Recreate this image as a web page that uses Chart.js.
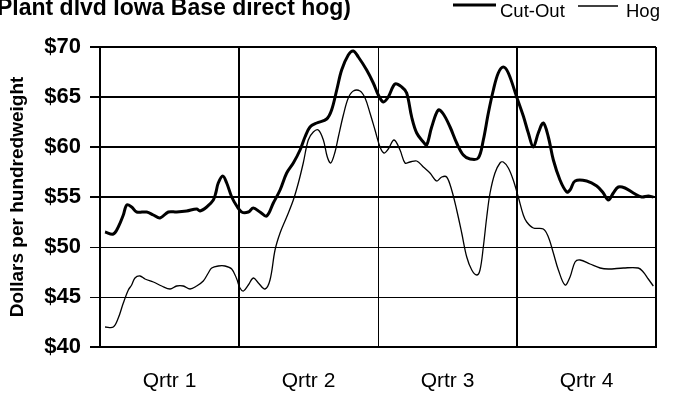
<!DOCTYPE html>
<html>
<head>
<meta charset="utf-8">
<script src="https://cdn.jsdelivr.net/npm/chart.js@4/dist/chart.umd.min.js"></script>
<style>
  html, body { margin: 0; padding: 0; background: #fff; }
  #wrap { width: 676px; height: 393px; position: relative; }
</style>
</head>
<body>
<div id="wrap"><canvas id="c"></canvas></div>
<script>
// Weekly position within the year (0-52) and price in $/cwt
const quarterLabels = ['Qrtr 1', 'Qrtr 2', 'Qrtr 3', 'Qrtr 4'];
const yTicks = [40, 45, 50, 55, 60, 65, 70];

const cutOutWeeks = [0.47, 1.24, 1.71, 2.18, 2.50, 2.96, 3.43, 4.37, 4.99, 5.61, 6.39, 7.17, 8.11, 9.04, 9.35, 9.98,
  10.60, 10.85, 11.06, 11.48, 11.85, 12.32, 12.79, 13.25, 13.87, 14.34, 14.96, 15.59, 16.21, 16.84, 17.46, 18.08,
  18.71, 19.17, 19.64, 20.27, 21.20, 21.66, 22.14, 22.60, 23.22, 23.69, 24.16, 24.94, 25.56, 26.03, 26.50, 26.96,
  27.59, 28.22, 28.68, 29.15, 29.62, 30.24, 30.55, 31.02, 31.64, 32.11, 32.74, 33.36, 33.98, 34.61, 35.38, 35.85,
  36.32, 36.79, 37.25, 37.72, 38.19, 38.97, 39.59, 40.06, 40.53, 40.99, 41.46, 41.93, 42.40, 43.02, 43.65, 43.96,
  44.43, 45.52, 46.46, 47.07, 47.54, 48.01, 48.48, 49.10, 49.88, 50.66, 51.28, 51.75];
const cutOutValues = [51.5, 51.3, 52.0, 53.2, 54.2, 54.0, 53.5, 53.5, 53.2, 52.9, 53.5, 53.5, 53.6, 53.8, 53.6, 54.0,
  54.7, 55.5, 56.4, 57.1, 56.4, 55.0, 54.1, 53.5, 53.5, 53.9, 53.5, 53.1, 54.4, 55.7, 57.4, 58.4,
  59.7, 61.0, 62.0, 62.4, 62.8, 63.7, 65.7, 67.7, 69.2, 69.6, 69.0, 67.7, 66.4, 65.2, 64.5, 65.0,
  66.3, 66.0, 65.4, 63.0, 61.4, 60.5, 60.2, 62.0, 63.7, 63.3, 62.0, 60.4, 59.2, 58.8, 58.9, 60.7,
  63.4, 65.7, 67.4, 68.0, 67.4, 65.0, 63.1, 61.4, 60.0, 61.4, 62.4, 61.0, 58.7, 56.7, 55.5, 55.7,
  56.6, 56.6, 56.1, 55.4, 54.7, 55.4, 56.0, 55.9, 55.4, 55.0, 55.1, 55.0];

const hogWeeks = [0.47, 1.24, 1.71, 2.18, 2.65, 2.96, 3.27, 3.74, 4.21, 4.99, 5.77, 6.55, 7.17, 7.79, 8.42, 9.04,
  9.66, 10.13, 10.45, 11.06, 11.69, 12.32, 12.79, 13.09, 13.42, 13.87, 14.34, 14.81, 15.43, 15.90, 16.37, 16.84,
  17.46, 18.08, 18.55, 19.01, 19.48, 19.95, 20.42, 20.89, 21.26, 21.58, 21.98, 22.29, 22.76, 23.22, 23.69, 24.32,
  24.79, 25.25, 25.72, 26.19, 26.56, 26.96, 27.50, 28.06, 28.53, 28.99, 29.62, 30.24, 30.86, 31.49, 31.96, 32.42,
  32.89, 33.36, 33.83, 34.30, 34.77, 35.23, 35.54, 35.85, 36.17, 36.48, 36.94, 37.41, 37.72, 38.19, 38.65, 39.12,
  39.59, 39.91, 40.53, 41.46, 41.93, 42.40, 42.87, 43.49, 43.96, 44.43, 44.90, 45.83, 46.77, 47.54, 48.95, 50.34,
  50.81, 51.28, 51.75];
const hogValues = [42.0, 42.0, 42.9, 44.4, 45.7, 46.2, 46.9, 47.1, 46.8, 46.5, 46.1, 45.8, 46.1, 46.1, 45.8, 46.1,
  46.6, 47.4, 47.9, 48.1, 48.1, 47.8, 46.8, 45.9, 45.6, 46.2, 46.9, 46.4, 45.8, 46.7, 49.7, 51.4,
  53.0, 54.7, 56.4, 58.4, 60.7, 61.5, 61.7, 60.7, 59.0, 58.4, 59.5, 61.0, 63.2, 64.9, 65.6, 65.6,
  64.9, 63.4, 61.7, 60.0, 59.4, 59.8, 60.7, 59.7, 58.4, 58.5, 58.6, 58.0, 57.4, 56.6, 57.0, 57.0,
  55.7, 53.7, 51.4, 49.0, 47.7, 47.2, 47.7, 50.0, 53.0, 55.4, 57.4, 58.4, 58.5, 57.9, 56.7, 55.0,
  53.2, 52.5, 51.9, 51.8, 51.0, 49.4, 47.7, 46.2, 47.0, 48.5, 48.7, 48.3, 47.9, 47.8, 47.9, 47.9,
  47.5, 46.8, 46.1];

const pair = (xs, ys) => xs.map((x, i) => ({ x, y: ys[i] }));

const FONT = '"Liberation Sans", Arial, sans-serif';

// Heading (first line sits above the canvas) and the line legend
const decorations = {
  id: 'decorations',
  afterDraw(chart) {
    const ctx = chart.ctx;
    ctx.save();
    ctx.fillStyle = '#000';
    ctx.font = 'bold 23px ' + FONT;
    ctx.textAlign = 'right';
    ctx.textBaseline = 'alphabetic';
    ctx.fillText('(Plant dlvd Iowa Base direct hog)', 351, 15);

    const items = [
      { ds: chart.data.datasets[0], x0: 453, x1: 496, ly: 5, tx: 500 },
      { ds: chart.data.datasets[1], x0: 578, x1: 618, ly: 6, tx: 626 }
    ];
    ctx.font = '18.5px ' + FONT;
    ctx.textAlign = 'left';
    items.forEach(it => {
      ctx.strokeStyle = it.ds.borderColor;
      ctx.lineWidth = it.ds.borderWidth;
      ctx.beginPath();
      ctx.moveTo(it.x0, it.ly);
      ctx.lineTo(it.x1, it.ly);
      ctx.stroke();
      ctx.fillText(it.ds.label, it.tx, 17);
    });
    ctx.restore();
  }
};

new Chart(document.getElementById('c'), {
  type: 'line',
  data: {
    datasets: [
      { label: 'Cut-Out', data: pair(cutOutWeeks, cutOutValues), borderColor: '#000', borderWidth: 3,
        pointRadius: 0, tension: 0.35, xAxisID: 'x', yAxisID: 'y' },
      { label: 'Hog', data: pair(hogWeeks, hogValues), borderColor: '#000', borderWidth: 1.3,
        pointRadius: 0, tension: 0.35, xAxisID: 'x', yAxisID: 'y' }
    ]
  },
  options: {
    responsive: true,
    maintainAspectRatio: false,
    animation: false,
    layout: { padding: { left: 0, right: 20, top: 47, bottom: 0 } },
    plugins: { legend: { display: false }, tooltip: { enabled: false } },
    scales: {
      x: {
        type: 'linear', position: 'bottom', min: 0, max: 52,
        ticks: { display: false, stepSize: 13 },
        afterBuildTicks: s => { s.ticks = [0, 13, 26, 39, 52].map(v => ({ value: v })); },
        afterFit: s => { s.height = 0; },
        grid: { color: '#000', drawTicks: false,
          lineWidth: c => (c.tick && c.tick.value === 26 ? 1 : 2) },
        border: { color: '#000', width: 2 }
      },
      xq: {
        type: 'category', position: 'bottom', labels: quarterLabels, offset: true,
        grid: { display: false, drawTicks: false },
        border: { display: false },
        ticks: { color: '#000', font: { family: FONT, size: 21 }, padding: 22, maxRotation: 0 },
        afterFit: s => { s.height = 46; }
      },
      y: {
        min: 40, max: 70,
        afterBuildTicks: s => { s.ticks = yTicks.map(v => ({ value: v })); },
        afterFit: s => { s.width = 100; },
        ticks: { color: '#000', padding: 9, font: { family: FONT, size: 22, weight: 'bold' },
          callback: v => '$' + v },
        grid: { color: '#000', tickLength: 10,
          lineWidth: c => (c.tick && (c.tick.value === 45 || c.tick.value === 50) ? 1 : 2) },
        border: { color: '#000', width: 2 },
        title: { display: true, text: 'Dollars per hundredweight', color: '#000',
          font: { family: FONT, size: 19, weight: 'bold' }, padding: { top: 6, bottom: 0 } }
      }
    }
  },
  plugins: [decorations]
});
</script>
</body>
</html>
